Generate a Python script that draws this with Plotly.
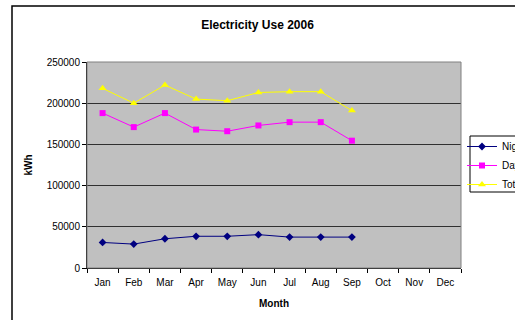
import plotly.graph_objects as go

# Monthly electricity use, 2006 (kWh)
months = ["Jan", "Feb", "Mar", "Apr", "May", "Jun", "Jul", "Aug", "Sep", "Oct", "Nov", "Dec"]
recorded = ["Jan", "Feb", "Mar", "Apr", "May", "Jun", "Jul", "Aug", "Sep"]
night = [31000, 29000, 35500, 38500, 38500, 40500, 37500, 37500, 37500]
day = [188000, 171000, 188000, 168000, 166000, 173000, 177000, 177000, 154500]
total = [218000, 200000, 222000, 205000, 203000, 213000, 214000, 214000, 191000]
y_ticks = [0, 50000, 100000, 150000, 200000, 250000]

FONT = "Arial, Liberation Sans, sans-serif"
W, H = 515, 320
L, R, T, B = 87, 54, 62, 52
PW, PH = W - L - R, H - T - B


def px_x(p):
    return (p - L) / PW


def px_y(p):
    return (H - B - p) / PH


fig = go.Figure()
series = [
    ("Night", night, "#000080", "diamond", 6),
    ("Day", day, "#FF00FF", "square", 6),
    ("Total", total, "#FFFF00", "triangle-up", 7),
]
for name, vals, color, symbol, size in series:
    fig.add_trace(go.Scatter(
        x=recorded, y=vals, name=name, mode="lines+markers",
        line=dict(color=color, width=1),
        marker=dict(color=color, symbol=symbol, size=size, line=dict(width=0)),
    ))

# chart frame, plot-area border and legend box
fig.add_shape(type="rect", xref="paper", yref="paper",
              x0=px_x(12), x1=px_x(560), y0=px_y(340), y1=px_y(6),
              line=dict(color="black", width=1.5), layer="below")
fig.add_shape(type="rect", xref="paper", yref="paper",
              x0=0, x1=1, y0=0, y1=1,
              line=dict(color="#808080", width=1), layer="above")
fig.add_shape(type="rect", xref="paper", yref="paper",
              x0=px_x(470), x1=px_x(540), y0=px_y(192), y1=px_y(136),
              line=dict(color="black", width=1), fillcolor="white", layer="above")

fig.update_layout(
    width=W, height=H,
    margin=dict(l=L, r=R, t=T, b=B, autoexpand=False),
    paper_bgcolor="white", plot_bgcolor="#C0C0C0",
    font=dict(family=FONT, size=10, color="black"),
    title=dict(text="<b>Electricity Use 2006</b>", x=0.5, xanchor="center",
               y=1 - 25 / H, yanchor="middle", font=dict(size=12, color="black")),
    showlegend=True,
    legend=dict(x=px_x(462), xanchor="left", y=px_y(132), yanchor="top",
                bgcolor="rgba(0,0,0,0)", borderwidth=0,
                font=dict(size=10), tracegroupgap=0, itemwidth=30),
    xaxis=dict(type="category", categoryorder="array", categoryarray=months,
               tickvals=months, range=[-0.5, 11.5], tickson="boundaries",
               ticks="outside", ticklen=4, tickcolor="black", ticklabelstandoff=5,
               showline=True, linecolor="black", linewidth=1,
               showgrid=False, zeroline=False,
               title=dict(text="<b>Month</b>", font=dict(size=10), standoff=12)),
    yaxis=dict(range=[0, 250000], tickvals=y_ticks, ticks="outside", ticklen=4,
               tickcolor="black", showline=True, linecolor="black", linewidth=1,
               showgrid=True, gridcolor="#303030", gridwidth=1, zeroline=False,
               tickformat="d",
               title=dict(text="<b>kWh</b>", font=dict(size=10), standoff=12)),
)

fig.write_html("out.html")
